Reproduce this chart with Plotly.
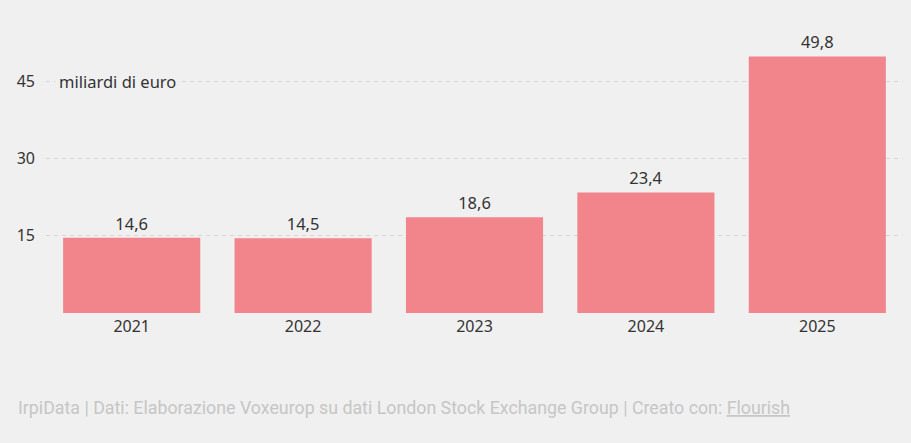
import plotly.graph_objects as go

years = ["2021", "2022", "2023", "2024", "2025"]
values = [14.6, 14.5, 18.6, 23.4, 49.8]
y_ticks = [15, 30, 45]
unit_label = "miliardi di euro"
footer = "IrpiData | Dati: Elaborazione Voxeurop su dati London Stock Exchange Group | Creato con: <u>Flourish</u>"

BG = "#f0f0f0"
FONT = "Noto Sans"

fig = go.Figure()
fig.add_trace(go.Bar(
    x=list(range(len(years))), y=values,
    marker=dict(color="#f2848c", line=dict(width=0)),
    texttemplate="%{y:.1f}", textposition="outside",
    textfont=dict(family=FONT, size=16.5, color="#333333"),
    cliponaxis=False, hoverinfo="skip",
))

fig.update_layout(
    width=911, height=443,
    paper_bgcolor=BG, plot_bgcolor=BG,
    margin=dict(l=46, r=8, t=40, b=130),
    separators=",.",
    bargap=0.2,
    showlegend=False,
    font=dict(family=FONT, color="#333333"),
    xaxis=dict(
        tickmode="array", tickvals=list(range(len(years))), ticktext=years,
        range=[-0.5, 4.5], showgrid=False, zeroline=False, showline=False,
        ticks="", ticklabelstandoff=2,
        tickfont=dict(family=FONT, size=16, color="#333333"),
    ),
    yaxis=dict(
        range=[0, 53], tickvals=y_ticks, showgrid=True,
        gridcolor="#d6d6d6", griddash="4px,4px", gridwidth=1,
        zeroline=False, showline=False, ticks="",
        ticklabelstandoff=10,
        tickfont=dict(family=FONT, size=16, color="#333333"),
    ),
)

fig.add_annotation(
    x=0, xref="paper", xanchor="left", xshift=9,
    y=45, yref="y", yanchor="middle",
    text=unit_label, showarrow=False, bgcolor=BG,
    font=dict(family=FONT, size=16.5, color="#333333"),
    borderpad=3,
)

fig.add_annotation(
    x=(16 - 46) / 857, xref="paper", xanchor="left",
    y=-(407 - 313) / 273, yref="paper", yanchor="middle",
    text=footer, showarrow=False,
    font=dict(family="Roboto", size=17.8, color="#c6c6c6"),
)

fig.write_html(
    "out.html",
    config={"displayModeBar": False},
    post_script="document.body.style.margin='0';document.body.style.padding='0';document.body.style.background='#f0f0f0';",
)
